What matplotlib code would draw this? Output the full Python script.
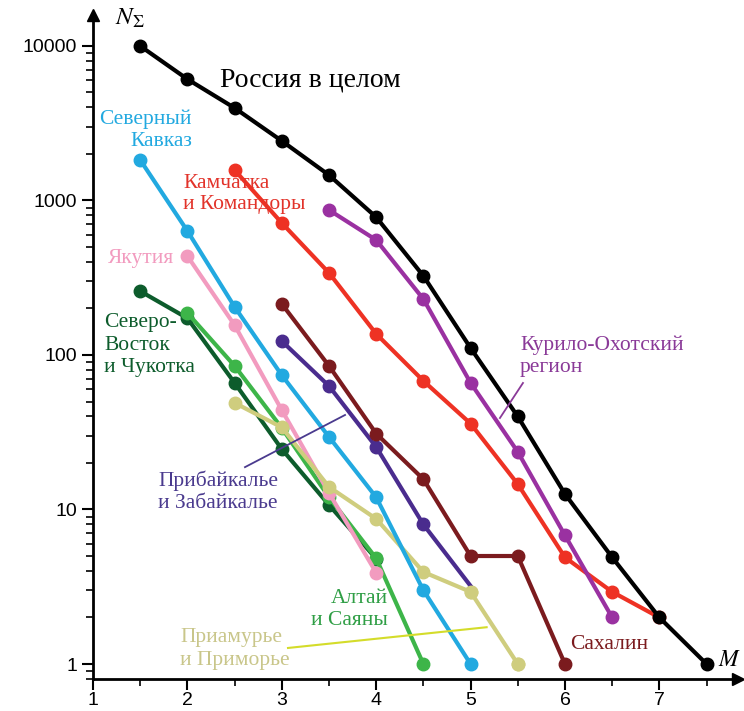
import numpy as np
import matplotlib.pyplot as plt
from matplotlib import ticker

# magnitudes (x) and cumulative counts (y) for each region
m_russia = [1.5, 2, 2.5, 3, 3.5, 4, 4.5, 5, 5.5, 6, 6.5, 7, 7.5]
n_russia = [10000, 6100, 3970, 2430, 1460, 780, 325, 111, 40, 12.6, 4.9, 2, 1]

m_kavkaz = [1.5, 2, 2.5, 3, 3.5, 4, 4.5, 5]
n_kavkaz = [1830, 635, 205, 74, 29.5, 12, 3, 1]

m_kamch = [2.5, 3, 3.5, 4, 4.5, 5, 5.5, 6, 6.5, 7]
n_kamch = [1575, 715, 340, 137, 68, 36, 14.6, 4.9, 2.93, 2]

m_kuril = [3.5, 4, 4.5, 5, 5.5, 6, 6.5]
n_kuril = [868, 555, 230, 66, 23.6, 6.8, 2]

m_yakut = [2, 2.5, 3, 3.5, 4]
n_yakut = [437, 156, 44, 12.8, 3.9]

m_sevvost = [1.5, 2, 2.5, 3, 3.5, 4]
n_sevvost = [259, 173, 66, 24.6, 10.7, 4.8]

m_altai = [2, 2.5, 3, 3.5, 4, 4.5]
n_altai = [187, 85, 33.7, 12, 4.83, 1]

m_priam = [2.5, 3, 3.5, 4, 4.5, 5, 5.5]
n_priam = [49, 34, 14, 8.7, 3.94, 2.93, 1]

m_pribaik = [3, 3.5, 4, 4.5, 5]
n_pribaik = [123, 63, 25.4, 8, 3.2]

m_sakh = [3, 3.5, 4, 4.5, 5, 5.5, 6]
n_sakh = [214, 85, 31, 15.7, 5, 5, 1]

plt.rcParams['mathtext.fontset'] = 'stix'

fig = plt.figure(figsize=(7.44, 7.11), dpi=100)
ax = fig.add_axes([93/744, 32/711, 645/744, 664/711])

lw, ms = 3, 9
series = [
    (m_sevvost, n_sevvost, '#0d5c2c', None),
    (m_altai, n_altai, '#3db549', None),
    (m_yakut, n_yakut, '#f29bbf', None),
    (m_priam, n_priam, '#cfcd7e', None),
    (m_kavkaz, n_kavkaz, '#22a9e0', None),
    (m_pribaik, n_pribaik, '#4a2c8e', [0, 1, 2, 3]),
    (m_sakh, n_sakh, '#7b1b1e', None),
    (m_kamch, n_kamch, '#ee3224', None),
    (m_kuril, n_kuril, '#9a31a1', None),
    (m_russia, n_russia, '#000000', None),
]
for m, n, c, mk in series:
    ax.plot(m, n, '-o', color=c, lw=lw, ms=ms, markevery=mk)
# khaki marker at M=5 sits above the indigo line end
ax.plot(m_priam[-2:], n_priam[-2:], 'o', color='#cfcd7e', ms=ms)

ax.set_yscale('log')
ax.set_xlim(1, 7.833)
ax.set_ylim(0.7997, 15870)

ax.spines['top'].set_visible(False)
ax.spines['right'].set_visible(False)
for s in ['left', 'bottom']:
    ax.spines[s].set_linewidth(2)
ax.plot(1, 0, '>k', ms=8, transform=ax.transAxes, clip_on=False)
ax.plot(0, 1, '^k', ms=8, transform=ax.transAxes, clip_on=False)

ax.xaxis.set_major_locator(ticker.MultipleLocator(1))
ax.xaxis.set_minor_locator(ticker.MultipleLocator(0.5))
ax.yaxis.set_major_formatter(ticker.FuncFormatter(lambda v, p: f'{v:g}'))
ax.tick_params(which='major', length=8, width=1.5, labelsize=14, direction='out')
ax.tick_params(axis='x', which='major', pad=1.5)
ax.tick_params(which='minor', length=5, width=1.2, direction='out')
ax.tick_params(axis='y', which='minor', labelleft=False)
for lab in ax.get_xticklabels() + ax.get_yticklabels():
    lab.set_fontfamily('Liberation Sans')

serif = 'Liberation Serif'
fs = 15.5
ls = 1.22
ax.text(2.35, 6030, 'Россия в целом', fontsize=20, family=serif, va='center', ha='left')
ax.text(2.049, 2857, 'Северный\nКавказ', fontsize=fs, family=serif, color='#22a9e0',
        ha='right', va='center', multialignment='right', linespacing=ls)
ax.text(1.953, 1102, 'Камчатка\nи Командоры', fontsize=fs, family=serif, color='#e2332a',
        ha='left', va='center', linespacing=1.1)
ax.text(1.159, 424, 'Якутия', fontsize=fs, family=serif, color='#f29bbf', ha='left', va='center')
ax.text(1.117, 116, 'Северо-\nВосток\nи Чукотка', fontsize=fs, family=serif, color='#0d5c2c',
        ha='left', va='center', linespacing=ls)
ax.text(5.523, 98.6, 'Курило-Охотский\nрегион', fontsize=fs, family=serif, color='#8a3a98',
        ha='left', va='center', linespacing=ls)
ax.text(1.689, 13.0, 'Прибайкалье\nи Забайкалье', fontsize=fs, family=serif, color='#4a3a8e',
        ha='left', va='center', linespacing=ls)
ax.text(4.125, 2.24, 'Алтай\nи Саяны', fontsize=fs, family=serif, color='#2f9e45',
        ha='right', va='center', multialignment='right', linespacing=ls)
ax.text(1.922, 1.25, 'Приамурье\nи Приморье', fontsize=fs, family=serif, color='#c9c68a',
        ha='left', va='center', linespacing=ls)
ax.text(6.053, 1.33, 'Сахалин', fontsize=fs, family=serif, color='#7b1b1e', ha='left', va='center')

# leader lines
ax.plot([5.555, 5.311], [65.9, 39.1], color='#8a3a98', lw=1.3)
ax.plot([2.61, 3.67], [18.8, 40.9], color='#4a3a8e', lw=1.3)
ax.plot([3.066, 5.17], [1.27, 1.73], color='#d4dc2a', lw=1.5)

ax.text(1.39, 15170, r'$N_\Sigma$', fontsize=18, ha='center', va='center', clip_on=False)
ax.text(7.62, 1.08, r'$M$', fontsize=17, ha='left', va='center', clip_on=False)

fig.savefig('out.png', dpi=100, facecolor='white')
